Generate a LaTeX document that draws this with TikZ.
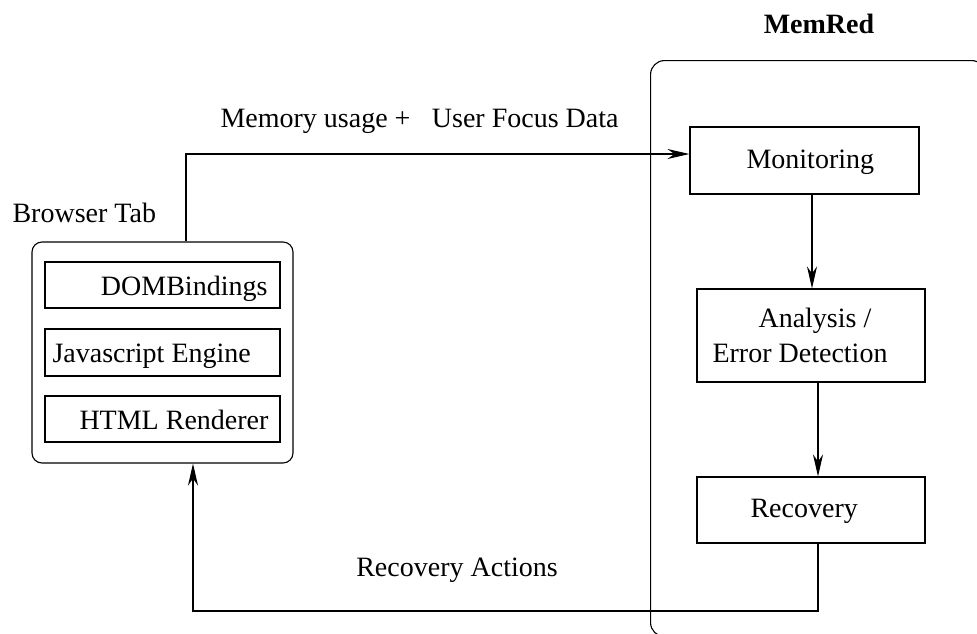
\documentclass[tikz,border=0pt]{standalone}
\usepackage{fontspec}
\setmainfont{Liberation Serif}
\usetikzlibrary{arrows.meta}
\begin{document}
\begin{tikzpicture}[x=1pt,y=-1pt,
  line width=1.1pt,
  txt/.style={inner sep=0pt,font=\fontsize{28}{32}\selectfont},
  box/.style={draw,inner sep=0pt},
  arr/.style={-{Stealth[length=22pt,width=10pt,inset=7pt]}}]
\useasboundingbox (0,0) rectangle (977,633);

% MemRed container (runs past the right and lower edges)
\node[box,rounded corners=14pt,minimum width=335pt,minimum height=576pt,anchor=north west] (memred) at (650,60) {};
\node[txt,anchor=base,font=\fontsize{28}{32}\selectfont\bfseries] (memredlbl) at (819,33) {MemRed};

% MemRed stages
\node[box,minimum width=229pt,minimum height=67pt] (mon) at (804.5,160.5) {};
\node[txt,anchor=base west] (monlbl) at (746,168) {Monitoring};
\node[box,minimum width=228pt,minimum height=93pt] (ana) at (811,335.5) {};
\node[txt,anchor=base west] (analbl1) at (758,327) {Analysis /};
\node[txt,anchor=base west] (analbl2) at (712,362) {Error Detection};
\node[box,minimum width=228pt,minimum height=66pt] (rec) at (811,510) {};
\node[txt,anchor=base west] (reclbl) at (750,517) {Recovery};

% Browser tab with its components
\node[box,rounded corners=10pt,minimum width=261pt,minimum height=221pt] (tab) at (162.5,352.5) {};
\node[txt,anchor=base west] (tablbl) at (12,222) {Browser Tab};
\node[box,minimum width=235pt,minimum height=46pt] (dom) at (162.5,285) {};
\node[txt,anchor=base east] (domlbl) at (268,295) {DOMBindings};
\node[box,minimum width=235pt,minimum height=47pt] (js) at (162.5,352.5) {};
\node[txt,anchor=base west] (jslbl) at (52,362) {Javascript Engine};
\node[box,minimum width=235pt,minimum height=46pt] (html) at (162.5,419) {};
\node[txt,anchor=base east] (htmllbl) at (269,429) {HTML Renderer};

% Connectors
\coordinate (up) at (186,154);
\draw[arr] ([xshift=23.5pt]tab.north) -- (up) -- (mon.west |- up);
\node[txt,anchor=base west] (memlbl) at (220,127) {Memory usage +\hspace{21.4pt}User Focus Data};

\draw[arr] (mon.south -| 812,0) -- (ana.north -| 812,0);
\draw[arr] (ana.south -| 818,0) -- (rec.north -| 818,0);

\coordinate (down) at (818,611);
\draw[arr] (rec.south -| down) -- (down) -| ([xshift=30.5pt]tab.south);
\node[txt,anchor=base] (actlbl) at (457,576) {Recovery Actions};
\end{tikzpicture}
\end{document}
